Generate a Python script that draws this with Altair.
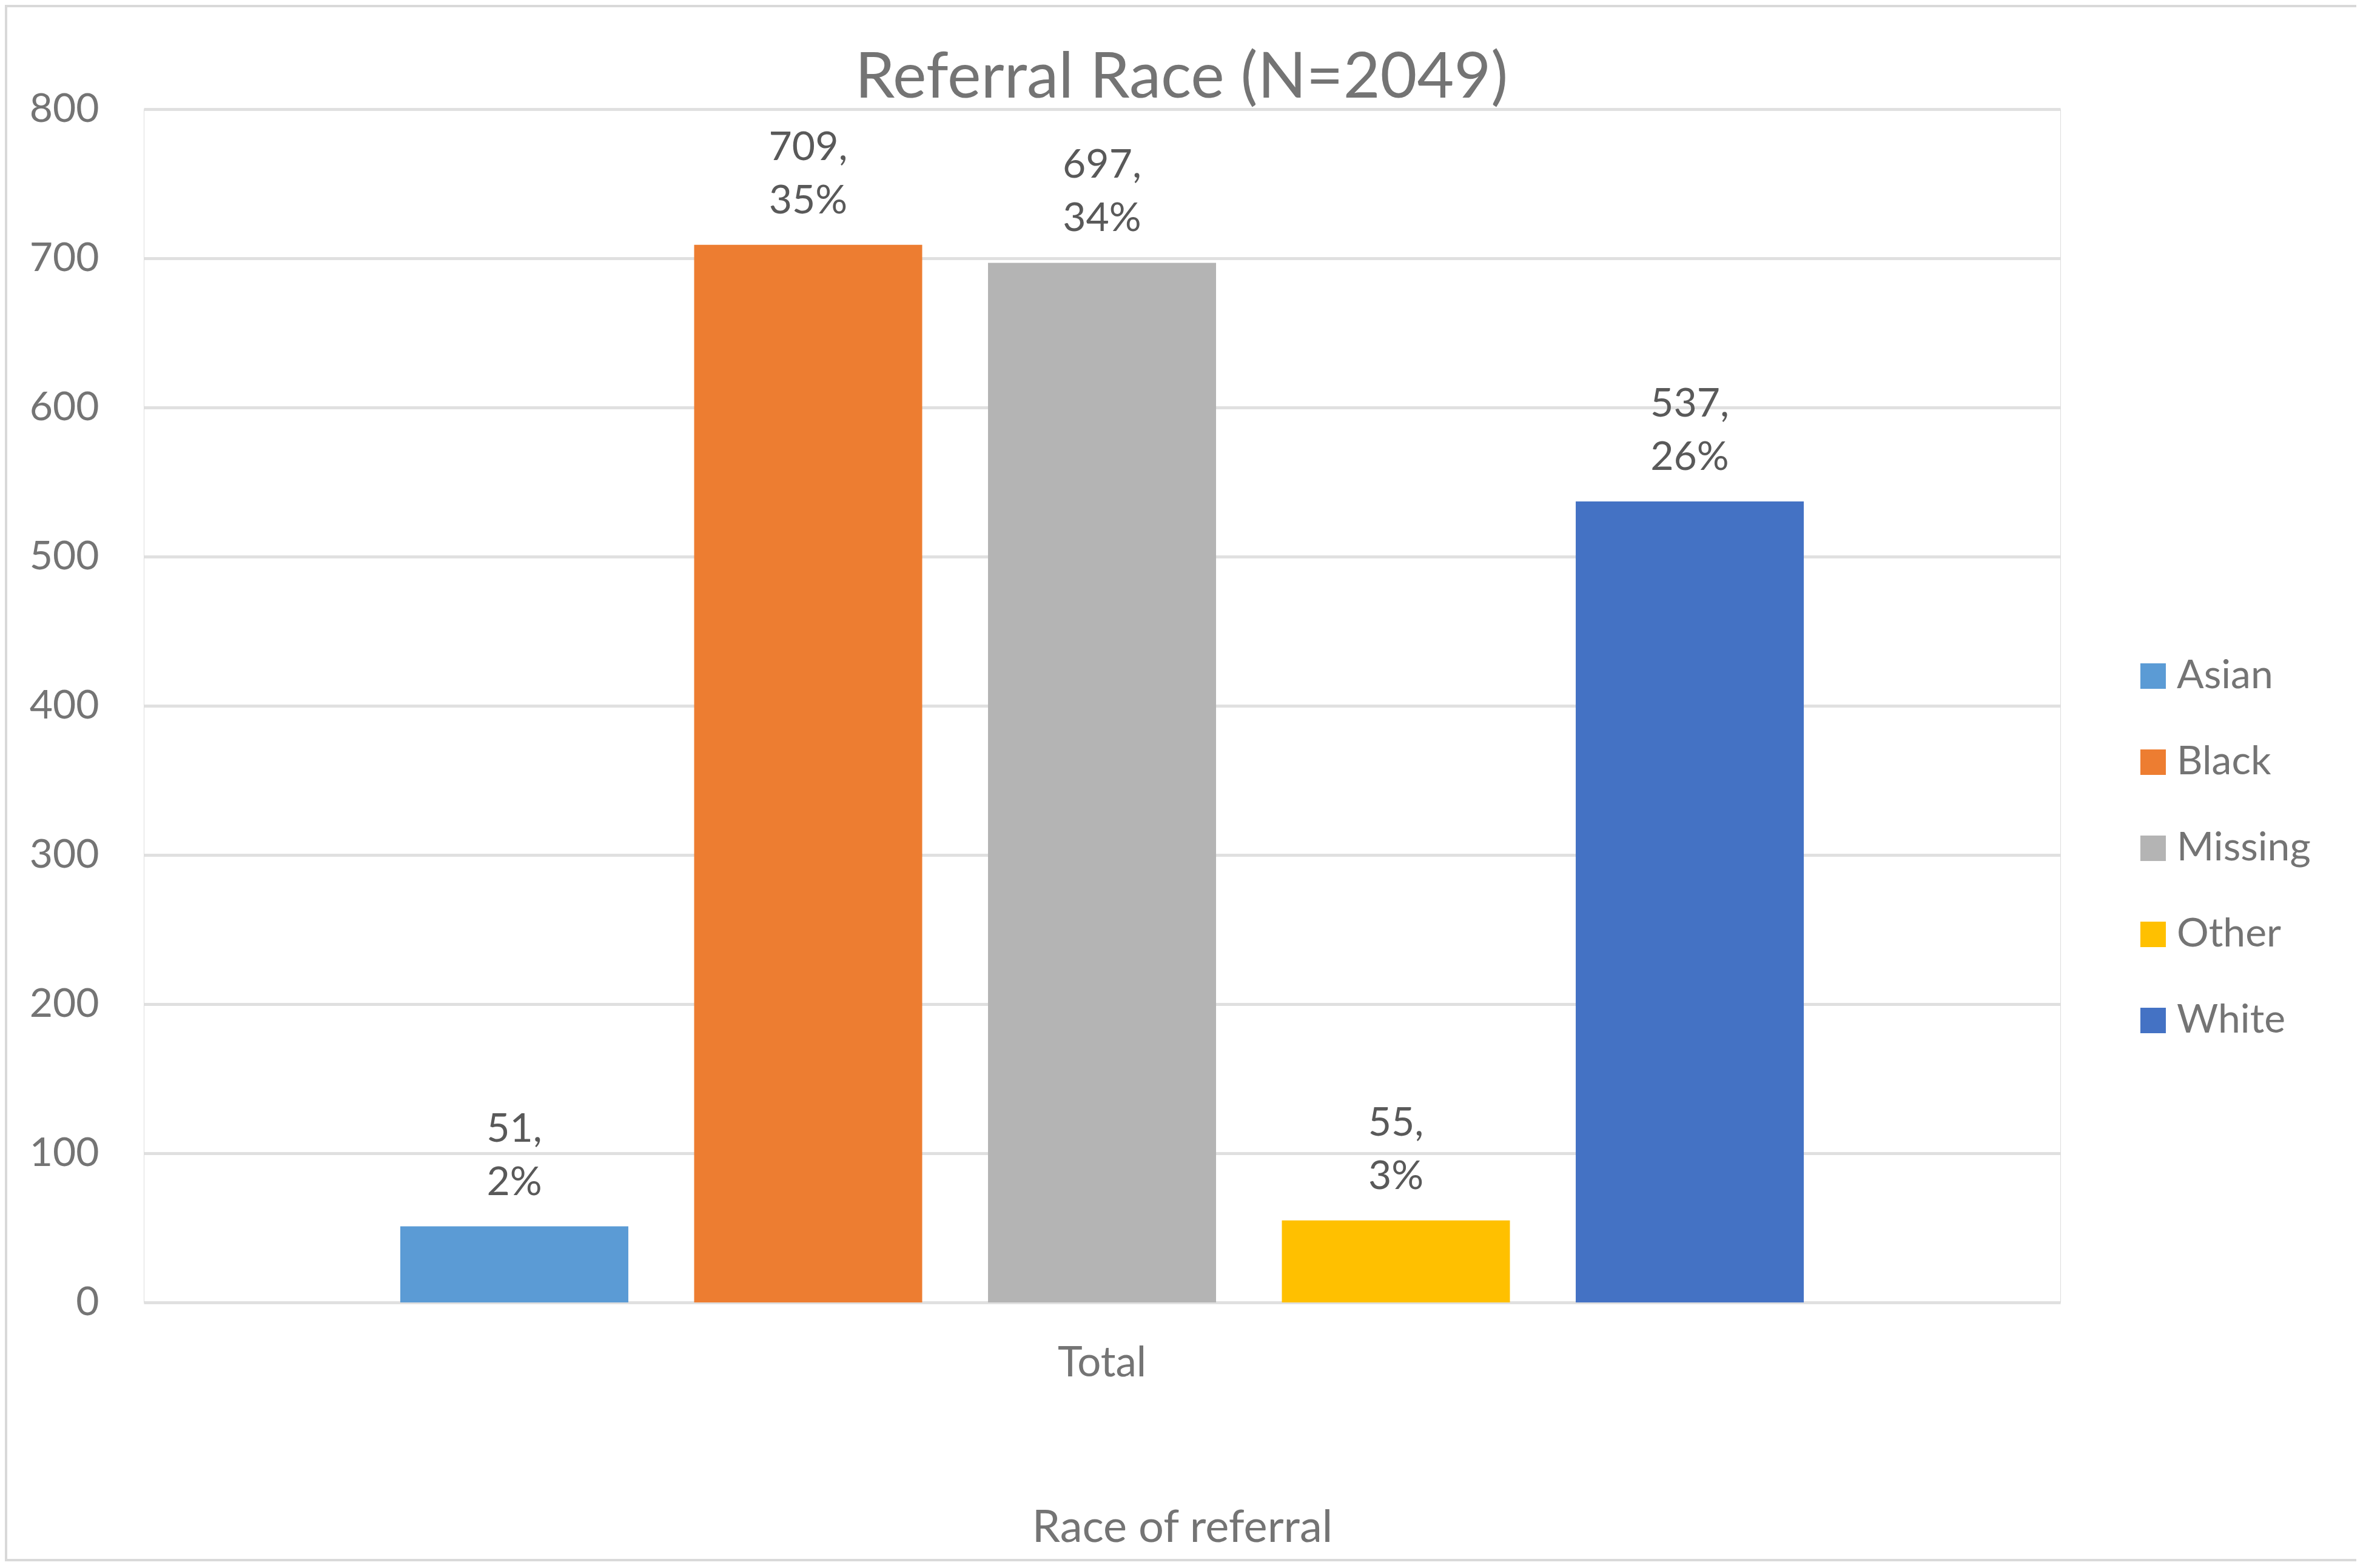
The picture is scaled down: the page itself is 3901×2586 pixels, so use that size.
import altair as alt
import pandas as pd

# ---- data ----
races = ["Asian", "Black", "Missing", "Other", "White"]
counts = [51, 709, 697, 55, 537]
percents = ["2%", "35%", "34%", "3%", "26%"]
group = ["Total", "Total", "Total", "Total", "Total"]
colors = ["#5B9BD5", "#ED7D31", "#B4B4B4", "#FFC000", "#4472C4"]
y_ticks = [0, 100, 200, 300, 400, 500, 600, 700, 800]

df = pd.DataFrame({
    "group": group,
    "race": races,
    "count": counts,
    "label": [f"{c},\n{p}" for c, p in zip(counts, percents)],
})

FONT = "Lato"
AXIS_GRAY = "#747474"
LABEL_GRAY = "#595959"

W, H = 3160, 1968
PAD_L, PAD_T, PAD_R, PAD_B = 229, 172, 488, 428

x_enc = alt.X("group:N", title="Race of referral",
              scale=alt.Scale(paddingInner=0, paddingOuter=0.1522),
              axis=alt.Axis(labelAngle=0, labelFontSize=69, labelFont=FONT,
                            labelColor=AXIS_GRAY, labelBaseline="alphabetic",
                            labelPadding=121, ticks=False, domain=False,
                            grid=False, titleFontSize=74, titleFont=FONT,
                            titleColor=AXIS_GRAY, titleFontWeight="normal",
                            titleBaseline="alphabetic", titleX=1712,
                            titleY=394, titleAlign="center"))
xo_enc = alt.XOffset("race:N", sort=races,
                     scale=alt.Scale(paddingInner=0.224, paddingOuter=0.112))
y_enc = alt.Y("count:Q", title=None,
              scale=alt.Scale(domain=[0, 800], nice=False),
              axis=alt.Axis(values=y_ticks, labelFontSize=66, labelFont=FONT,
                            labelColor=AXIS_GRAY, labelPadding=74,
                            ticks=False, domain=False, grid=True,
                            gridColor="#E0E0E0", gridWidth=5))

bars = alt.Chart(df).mark_bar(size=376).encode(
    x=x_enc,
    xOffset=xo_enc,
    y=y_enc,
    color=alt.Color("race:N", sort=races,
                    scale=alt.Scale(domain=races, range=colors),
                    legend=alt.Legend(title=None, orient="none",
                                      legendX=3280, legendY=902,
                                      symbolType="square", symbolSize=1764,
                                      symbolStrokeWidth=0, labelFontSize=66,
                                      labelFont=FONT, labelColor=AXIS_GRAY,
                                      labelOffset=6, labelLimit=600,
                                      rowPadding=76, padding=0, offset=0)),
)

labels = alt.Chart(df).mark_text(
    font=FONT, fontSize=66, color=LABEL_GRAY, baseline="alphabetic",
    align="center", dy=-140, lineBreak="\n", lineHeight=88,
).encode(
    x=alt.X("group:N"),
    xOffset=alt.XOffset("race:N", sort=races),
    y=alt.Y("count:Q"),
    text="label:N",
)

BORDER = "#D9D9D9"
top_line = alt.Chart(df).mark_rule(color=BORDER, strokeWidth=4).encode(
    x=alt.value(-PAD_L), x2=alt.value(W + PAD_R + 100),
    y=alt.value(-PAD_T + 2))
left_line = alt.Chart(df).mark_rule(color=BORDER, strokeWidth=4).encode(
    x=alt.value(-PAD_L + 2), y=alt.value(-PAD_T), y2=alt.value(H + PAD_B - 1))
bottom_line = alt.Chart(df).mark_rule(color=BORDER, strokeWidth=4).encode(
    x=alt.value(-PAD_L), x2=alt.value(W + PAD_R + 100),
    y=alt.value(H + PAD_B - 3))

chart = alt.layer(top_line, left_line, bottom_line, bars, labels).properties(
    width=W, height=H,
    title=alt.TitleParams("Referral Race (N=2049)", font=FONT, fontSize=105,
                          fontWeight="normal", color=AXIS_GRAY,
                          anchor="middle", dx=131, baseline="alphabetic",
                          offset=-260),
    autosize=alt.AutoSizeParams(type="none"),
    padding={"left": PAD_L, "top": PAD_T, "right": PAD_R, "bottom": PAD_B},
).configure_view(stroke=None).configure(background="white")

chart.save("out.html", embed_options={"renderer": "svg", "actions": False})
